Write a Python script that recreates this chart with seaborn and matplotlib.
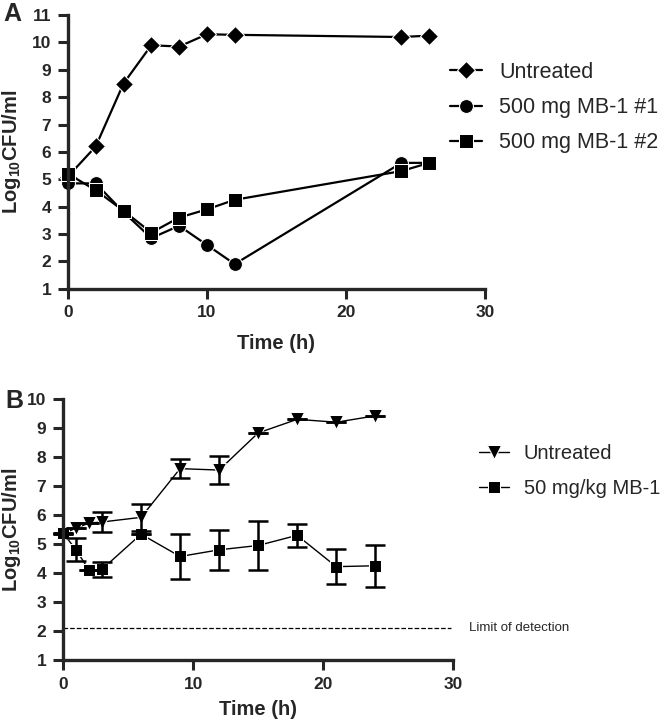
import numpy as np
import pandas as pd
import matplotlib
matplotlib.use("Agg")
import matplotlib.pyplot as plt
import seaborn as sns

# Panel A data (single animals)
time_a = [0, 2, 4, 6, 8, 10, 12, 24, 26]
untreated_a = [5.1, 6.2, 8.5, 9.9, 9.85, 10.3, 10.28, 10.2, 10.25]
mb1_1 = [4.85, 4.85, 3.8, 2.85, 3.3, 2.6, 1.9, 5.6, 5.6]
mb1_2 = [5.2, 4.6, 3.85, 3.05, 3.6, 3.9, 4.25, 5.3, 5.6]

# Panel B data (mean and error)
time_b = [0, 1, 2, 3, 6, 9, 12, 15, 18, 21, 24]
untreated_b = [5.35, 5.55, 5.72, 5.76, 5.92, 7.6, 7.55, 8.83, 9.3, 9.2, 9.42]
untreated_b_err = [0.0, 0.0, 0.0, 0.35, 0.47, 0.33, 0.48, 0.0, 0.0, 0.0, 0.0]
mb1_b = [5.38, 4.8, 4.1, 4.13, 5.34, 4.57, 4.8, 4.95, 5.3, 4.22, 4.25]
mb1_b_err = [0.0, 0.4, 0.0, 0.26, 0.0, 0.78, 0.7, 0.83, 0.4, 0.6, 0.72]
limit_of_detection = 2.1

sns.set_style("ticks")
plt.rcParams['font.family'] = ['Liberation Sans', 'DejaVu Sans']
plt.rcParams['mathtext.fontset'] = 'custom'
plt.rcParams['mathtext.rm'] = 'Liberation Sans'
plt.rcParams['mathtext.bf'] = 'Liberation Sans:bold'

fig = plt.figure(figsize=(6.66, 7.2), dpi=100)
ax1 = fig.add_axes([0.102, 0.599, 0.626, 0.380])
ax2 = fig.add_axes([0.0946, 0.0833, 0.586, 0.3625])

ylabel = r'Log$_{\mathbf{10}}$CFU/ml'


def style_axis(ax, ymax, xpad, ylab_x):
    ax.set_xlim(0, 30)
    ax.set_ylim(1, ymax)
    ax.set_xticks([0, 10, 20, 30])
    ax.set_yticks(range(1, ymax + 1))
    sns.despine(ax=ax)
    for s in ['left', 'bottom']:
        ax.spines[s].set_linewidth(2.4)
    ax.tick_params(width=2.2, length=7, labelsize=12.5, pad=5)
    for lab in ax.get_xticklabels() + ax.get_yticklabels():
        lab.set_fontweight('bold')
    ax.set_xlabel('Time (h)', fontsize=14.5, fontweight='bold', labelpad=xpad)
    ax.set_ylabel(ylabel, fontsize=14.5, fontweight='bold')
    ax.yaxis.set_label_coords(ylab_x, 0.5)


# Panel A
sns.lineplot(x=time_a, y=untreated_a, ax=ax1, color='black', marker='D',
             markersize=9.5, linewidth=1.6, label='Untreated', clip_on=False)
sns.lineplot(x=time_a, y=mb1_1, ax=ax1, color='black', marker='o',
             markersize=10, linewidth=1.6, label='500 mg MB-1 #1', clip_on=False)
sns.lineplot(x=time_a, y=mb1_2, ax=ax1, color='black', marker='s',
             markersize=9.5, linewidth=1.6, label='500 mg MB-1 #2', clip_on=False)
style_axis(ax1, 11, 10, -0.108)
ax1.legend(bbox_to_anchor=(0.916, 0.83), loc='upper left', frameon=False,
           fontsize=15.5, borderpad=0, borderaxespad=0, handlelength=1.5,
           handletextpad=0.8, labelspacing=0.67)

# Panel B
sns.lineplot(x=time_b, y=untreated_b, ax=ax2, color='black', marker='v',
             markersize=10, linewidth=1.0, label='Untreated', clip_on=False)
sns.lineplot(x=time_b, y=mb1_b, ax=ax2, color='black', marker='s',
             markersize=8.5, linewidth=1.0, label='50 mg/kg MB-1', clip_on=False)
ax2.errorbar(time_b, untreated_b, yerr=untreated_b_err, fmt='none',
             ecolor='black', elinewidth=1.8, capsize=7.5, capthick=1.8, clip_on=False)
ax2.errorbar(time_b, mb1_b, yerr=mb1_b_err, fmt='none',
             ecolor='black', elinewidth=1.8, capsize=7.5, capthick=1.8, clip_on=False)
ax2.hlines(limit_of_detection, 0, 29.8, colors='black', linestyles='--', linewidth=0.9)
ax2.text(31.2, limit_of_detection, 'Limit of detection', fontsize=9.5,
         va='center', ha='left', clip_on=False)
style_axis(ax2, 10, 6, -0.103)
ax2.legend(bbox_to_anchor=(1.067, 0.829), loc='upper left', frameon=False,
           fontsize=14.5, borderpad=0, borderaxespad=0, handlelength=1.45,
           handletextpad=0.75, labelspacing=0.8)

fig.text(0.018, 0.981, 'A', fontsize=18, fontweight='bold', va='center', ha='center')
fig.text(0.022, 0.443, 'B', fontsize=18, fontweight='bold', va='center', ha='center')

fig.savefig('out.png', dpi=100)
